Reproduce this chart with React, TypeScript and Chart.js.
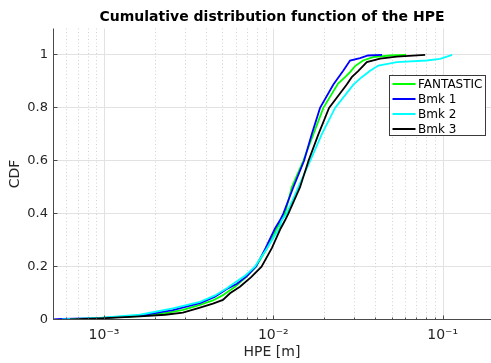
import React, { useEffect, useRef } from "react";
import { Chart, registerables } from "chart.js";

Chart.register(...registerables);

const FONT = "'DejaVu Sans', sans-serif";

const SERIES_NAMES = ["FANTASTIC", "Bmk 1", "Bmk 2", "Bmk 3"];
const SERIES_COLORS = ["#00ff00", "#0000ff", "#00ffff", "#000000"];

// Horizontal position error [m] and empirical CDF for each receiver
const fantasticHpe = [6.3e-4, 9.5e-4, 1.45e-3, 1.87e-3, 2.4e-3, 2.93e-3, 3.69e-3, 4.4e-3, 5.04e-3, 5.94e-3, 6.9e-3, 7.9e-3, 9.2e-3, 0.01047, 0.0112, 0.01173, 0.01285, 0.01504, 0.01723, 0.01975, 0.02412, 0.02653, 0.02839, 0.0304, 0.0339, 0.03883, 0.0489, 0.0608];
const fantasticCdf = [0, 0.006, 0.011, 0.017, 0.026, 0.036, 0.055, 0.072, 0.092, 0.124, 0.16, 0.2, 0.27, 0.344, 0.375, 0.4, 0.5, 0.6, 0.7, 0.8, 0.892, 0.916, 0.935, 0.958, 0.979, 0.992, 0.998, 1.0];

const bmk1Hpe = [4.6e-4, 5.64e-4, 9.46e-4, 1.63e-3, 2.55e-3, 3.69e-3, 4.5e-3, 5.32e-3, 6.1e-3, 7.0e-3, 7.9e-3, 9.0e-3, 0.01023, 0.01095, 0.01146, 0.01313, 0.01519, 0.01686, 0.01888, 0.02263, 0.02593, 0.02839, 0.03253, 0.03627, 0.0439];
const bmk1Cdf = [0, 0.002, 0.005, 0.015, 0.035, 0.062, 0.085, 0.115, 0.135, 0.165, 0.2, 0.27, 0.344, 0.375, 0.4, 0.5, 0.6, 0.7, 0.8, 0.888, 0.941, 0.979, 0.988, 0.998, 1.0];

const bmk2Hpe = [5.64e-4, 9.46e-4, 1.63e-3, 2.55e-3, 3.69e-3, 4.5e-3, 5.32e-3, 5.8e-3, 6.8e-3, 7.79e-3, 9.2e-3, 0.01085, 0.0112, 0.012, 0.01405, 0.0165, 0.01932, 0.02316, 0.02971, 0.0333, 0.03728, 0.04175, 0.05362, 0.0806, 0.0966, 0.1138];
const bmk2Cdf = [0, 0.006, 0.018, 0.042, 0.067, 0.09, 0.118, 0.135, 0.165, 0.2, 0.27, 0.344, 0.375, 0.4, 0.5, 0.6, 0.7, 0.8, 0.888, 0.916, 0.94, 0.96, 0.973, 0.979, 0.985, 1.0];

const bmk3Hpe = [6.3e-4, 9.46e-4, 1.63e-3, 2.3e-3, 2.925e-3, 3.69e-3, 4.4e-3, 5.04e-3, 5.55e-3, 6.35e-3, 7.4e-3, 8.52e-3, 0.0098, 0.01105, 0.01173, 0.01227, 0.01438, 0.01614, 0.01845, 0.02134, 0.02715, 0.02906, 0.0318, 0.03565, 0.04272, 0.05362, 0.0788];
const bmk3Cdf = [0, 0.004, 0.012, 0.018, 0.026, 0.045, 0.06, 0.074, 0.099, 0.124, 0.16, 0.2, 0.27, 0.344, 0.375, 0.4, 0.5, 0.6, 0.7, 0.8, 0.888, 0.916, 0.94, 0.973, 0.986, 0.994, 1.0];

const SERIES_HPE = [fantasticHpe, bmk1Hpe, bmk2Hpe, bmk3Hpe];
const SERIES_CDF = [fantasticCdf, bmk1Cdf, bmk2Cdf, bmk3Cdf];

const X_TICKS = [1e-3, 1e-2, 1e-1];
const X_TICK_LABELS = ["10\u207B\u00B3", "10\u207B\u00B2", "10\u207B\u00B9"];
const Y_TICKS = [0, 0.2, 0.4, 0.6, 0.8, 1];
const Y_TICK_LABELS = ["0", "0.2", "0.4", "0.6", "0.8", "1"];

const X_MIN = 5e-4;
const X_MAX = 0.193;
const Y_MIN = 0;
const Y_MAX = 1.1;

const TITLE = "Cumulative distribution function of the HPE";
const X_LABEL = "HPE [m]";
const Y_LABEL = "CDF";

const AXIS_COLOR = "#4a4a4a";
const TEXT_COLOR = "#262626";

const matlabAxes = {
  id: "matlabAxes",
  beforeDatasetsDraw(chart: any) {
    const { ctx, chartArea, scales } = chart;
    const { top, bottom } = chartArea;
    const xs = scales.x;
    ctx.save();
    // minor log grid (dotted)
    ctx.strokeStyle = "#d2d2d2";
    ctx.lineWidth = 1;
    ctx.setLineDash([1, 2.5]);
    for (let d = -4; d <= 0; d++) {
      for (let k = 2; k <= 9; k++) {
        const v = k * Math.pow(10, d);
        if (v <= X_MIN || v >= X_MAX) continue;
        const px = Math.round(xs.getPixelForValue(v)) + 0.5;
        ctx.beginPath();
        ctx.moveTo(px, top);
        ctx.lineTo(px, bottom);
        ctx.stroke();
      }
    }
    ctx.setLineDash([]);
    ctx.strokeStyle = "#e2e2e2";
    for (const v of X_TICKS) {
      const px = Math.round(xs.getPixelForValue(v)) + 0.5;
      ctx.beginPath();
      ctx.moveTo(px, top);
      ctx.lineTo(px, bottom);
      ctx.stroke();
    }
    ctx.restore();
  },
  afterDatasetsDraw(chart: any) {
    const { ctx, chartArea, scales } = chart;
    const { left, right, top, bottom } = chartArea;
    const xs = scales.x;
    const ys = scales.y;
    ctx.save();
    ctx.strokeStyle = AXIS_COLOR;
    ctx.lineWidth = 1;
    const ax = Math.round(left) + 0.5;
    const ay = Math.round(bottom) - 0.5;
    ctx.beginPath();
    ctx.moveTo(ax, top);
    ctx.lineTo(ax, ay);
    ctx.lineTo(right, ay);
    ctx.stroke();
    // inward tick marks
    for (const v of Y_TICKS) {
      const py = Math.round(ys.getPixelForValue(v)) - 0.5;
      ctx.beginPath();
      ctx.moveTo(ax, py);
      ctx.lineTo(ax + 4, py);
      ctx.stroke();
    }
    for (let d = -4; d <= 0; d++) {
      for (let k = 1; k <= 9; k++) {
        const v = k * Math.pow(10, d);
        if (v <= X_MIN || v >= X_MAX) continue;
        const px = Math.round(xs.getPixelForValue(v)) + 0.5;
        ctx.beginPath();
        ctx.moveTo(px, ay);
        ctx.lineTo(px, ay - (k === 1 ? 4 : 2));
        ctx.stroke();
      }
    }

    // legend box
    const lx = 389.5;
    const ly = 75.5;
    const lw = 96;
    const lh = 60;
    ctx.fillStyle = "#ffffff";
    ctx.fillRect(lx, ly, lw, lh);
    ctx.strokeStyle = "#3a3a3a";
    ctx.strokeRect(lx, ly, lw, lh);
    ctx.font = `12px ${FONT}`;
    ctx.textBaseline = "middle";
    ctx.textAlign = "left";
    SERIES_NAMES.forEach((name, i) => {
      const ry = ly + 8.5 + i * 15;
      ctx.strokeStyle = SERIES_COLORS[i];
      ctx.lineWidth = 2;
      ctx.beginPath();
      ctx.moveTo(lx + 3, ry);
      ctx.lineTo(lx + 26, ry);
      ctx.stroke();
      ctx.fillStyle = "#000000";
      ctx.fillText(name, lx + 28.5, ry + 0.5);
    });
    ctx.restore();
  },
  afterDraw(chart: any) {
    const { ctx, chartArea } = chart;
    const { left, right, top, bottom } = chartArea;
    const cx = (left + right) / 2;
    ctx.save();
    ctx.textAlign = "center";
    ctx.textBaseline = "middle";
    ctx.fillStyle = "#000000";
    ctx.font = `bold 14px ${FONT}`;
    ctx.fillText(TITLE, cx, 17);
    ctx.fillStyle = TEXT_COLOR;
    ctx.font = `14px ${FONT}`;
    ctx.fillText(X_LABEL, cx, 352);
    ctx.translate(15, (top + bottom) / 2);
    ctx.rotate(-Math.PI / 2);
    ctx.fillText(Y_LABEL, 0, 0);
    ctx.restore();
  },
};

export default function App() {
  const canvasRef = useRef<HTMLCanvasElement | null>(null);

  useEffect(() => {
    const canvas = canvasRef.current;
    if (!canvas) return;
    const datasets = SERIES_NAMES.map((name, i) => ({
      label: name,
      data: SERIES_HPE[i].map((x, j) => ({ x, y: SERIES_CDF[i][j] })),
      borderColor: SERIES_COLORS[i],
      backgroundColor: SERIES_COLORS[i],
      borderWidth: 1.8,
      pointRadius: 0,
      tension: 0,
      fill: false,
      order: SERIES_NAMES.length - i,
    }));

    const chart = new Chart(canvas, {
      type: "line",
      data: { datasets },
      options: {
        animation: false,
        responsive: false,
        layout: { padding: { top: 28.5, right: 0, bottom: 0, left: 0 } },
        plugins: {
          legend: { display: false },
          tooltip: { enabled: false },
          title: { display: false },
        },
        scales: {
          x: {
            type: "logarithmic",
            min: X_MIN,
            max: X_MAX,
            afterBuildTicks: (s: any) => {
              s.ticks = X_TICKS.map((value) => ({ value }));
            },
            afterFit: (s: any) => {
              s.height = 43.5;
            },
            ticks: {
              autoSkip: false,
              maxRotation: 0,
              padding: 7,
              color: TEXT_COLOR,
              font: { family: FONT, size: 14 },
              callback: (v: any) => {
                const idx = X_TICKS.findIndex((t) => Math.abs(t - Number(v)) / t < 1e-6);
                return idx >= 0 ? X_TICK_LABELS[idx] : "";
              },
            },
            grid: { display: false, drawTicks: false },
            border: { display: false },
          },
          y: {
            type: "linear",
            min: Y_MIN,
            max: Y_MAX,
            afterBuildTicks: (s: any) => {
              s.ticks = Y_TICKS.map((value) => ({ value }));
            },
            afterFit: (s: any) => {
              s.width = 53;
            },
            ticks: {
              padding: 5,
              color: TEXT_COLOR,
              font: { family: FONT, size: 13 },
              callback: (v: any) => {
                const idx = Y_TICKS.findIndex((t) => Math.abs(t - Number(v)) < 1e-9);
                return idx >= 0 ? Y_TICK_LABELS[idx] : "";
              },
            },
            grid: { color: "#e2e2e2", drawTicks: false, lineWidth: 1 },
            border: { display: false },
          },
        },
      },
      plugins: [matlabAxes],
    } as any);

    return () => chart.destroy();
  }, []);

  return (
    <div style={{ position: "absolute", left: 0, top: 0, width: 491, height: 363, background: "#ffffff" }}>
      <canvas ref={canvasRef} width={491} height={363} style={{ display: "block" }} />
    </div>
  );
}
